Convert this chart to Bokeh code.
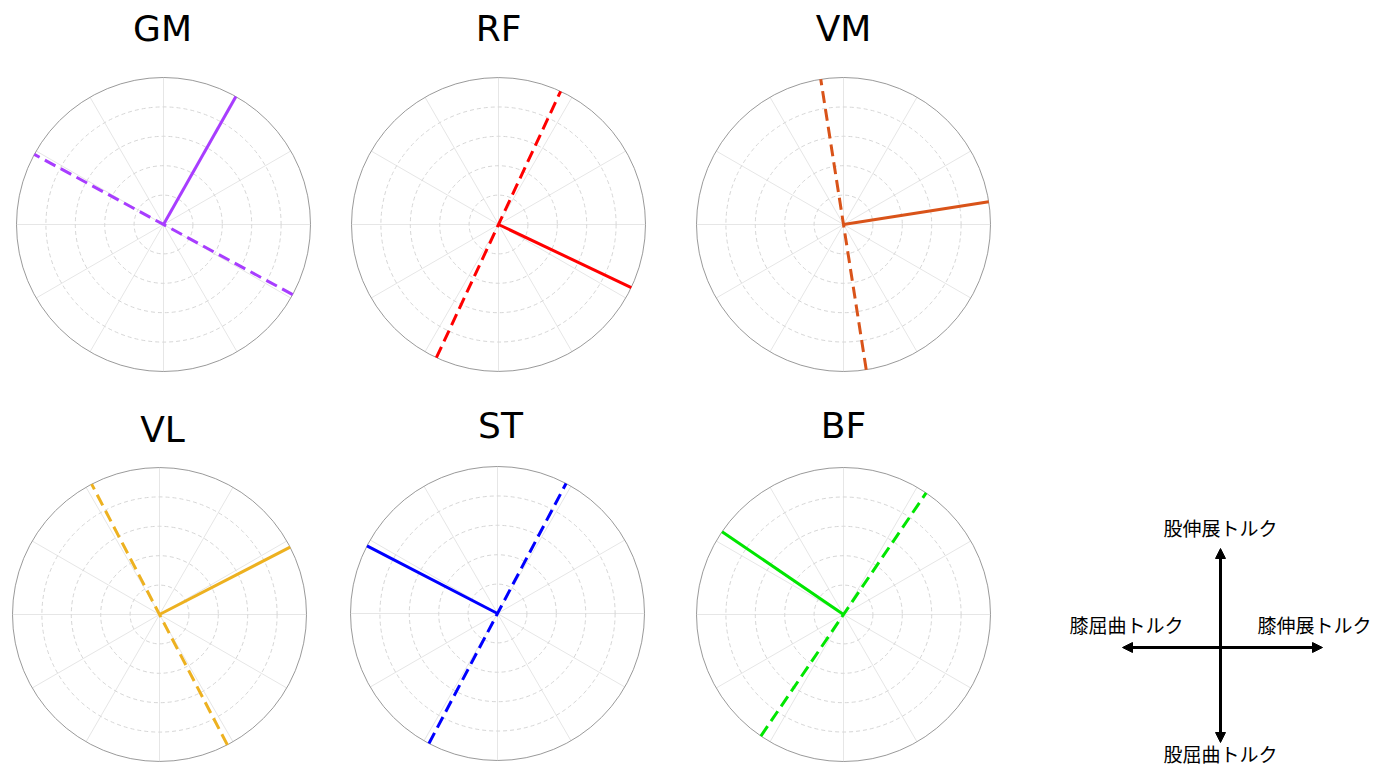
import numpy as np
from bokeh.plotting import figure
from bokeh.models import Range1d, Arrow, NormalHead
from bokeh.core.properties import value
from bokeh.embed import file_html
from bokeh.resources import INLINE

# ---- data ----
muscles = ["GM", "RF", "VM", "VL", "ST", "BF"]
solid_deg = [60.5, -25.4, 8.9, 27.3, 152.6, 145.7]     # direction of solid vector
dashed_deg = [151.5, 65.0, 98.9, 117.5, 62.2, 55.8]   # orientation of dashed axis
colors = ["#A83DFF", "#FF0000", "#D95319", "#EDB120", "#0000FF", "#00E600"]
ring_levels = [0.2, 0.4, 0.6, 0.8]
spoke_deg = list(range(0, 360, 30))
legend_labels = ["股伸展トルク", "膝屈曲トルク", "膝伸展トルク", "股屈曲トルク"]

# ---- layout (picture pixel coordinates, y measured upward: y = 784 - picture_y) ----
W, H = 1378, 768
centers = [(163, 560), (498, 560), (843, 560), (159, 170), (497, 171), (843, 170)]
title_pos = [(162, 756), (498, 756), (843, 756), (162, 355), (500, 359), (843, 359)]
R = 147.0

p = figure(width=W, height=H, output_backend="svg", toolbar_location=None,
           x_range=Range1d(0, W), y_range=Range1d(784 - H, 784),
           min_border=0, outline_line_color=None)
p.axis.visible = False
p.grid.visible = False

for i, m in enumerate(muscles):
    cx, cy = centers[i]
    # spokes
    a = np.radians(spoke_deg)
    p.segment(x0=[cx] * len(a), y0=[cy] * len(a), x1=list(cx + R * np.cos(a)),
              y1=list(cy + R * np.sin(a)), line_color="#e6e6e6", line_width=1)
    # inner rings (dashed)
    p.circle(x=[cx] * len(ring_levels), y=[cy] * len(ring_levels),
             radius=[R * r for r in ring_levels], fill_color=None,
             line_color="#d6d6d6", line_width=1, line_dash="4 3")
    # outer ring
    p.circle(x=[cx], y=[cy], radius=[R], fill_color=None, line_color="#9a9a9a", line_width=1)
    # dashed axis through center
    d = np.radians(dashed_deg[i])
    p.segment(x0=[cx - R * np.cos(d)], y0=[cy - R * np.sin(d)],
              x1=[cx + R * np.cos(d)], y1=[cy + R * np.sin(d)],
              line_color=colors[i], line_width=3, line_dash="12 6")
    # solid vector
    s = np.radians(solid_deg[i])
    p.segment(x0=[cx], y0=[cy], x1=[cx + R * np.cos(s)], y1=[cy + R * np.sin(s)],
              line_color=colors[i], line_width=3)
    # title
    tx, ty = title_pos[i]
    p.text(x=[tx], y=[ty], text=[m], text_align="center", text_baseline="middle",
           text_font=value("DejaVu Sans"), text_font_size="36px", text_color="black")

# ---- direction legend ----
lx, ly = 1220, 137
p.add_layout(Arrow(x_start=lx, y_start=42, x_end=lx, y_end=236, line_width=3,
                   line_color="black",
                   start=NormalHead(size=10, fill_color="black", line_color="black"),
                   end=NormalHead(size=10, fill_color="black", line_color="black")))
p.add_layout(Arrow(x_start=1122, y_start=ly, x_end=1322, y_end=ly, line_width=3,
                   line_color="black",
                   start=NormalHead(size=10, fill_color="black", line_color="black"),
                   end=NormalHead(size=10, fill_color="black", line_color="black")))
lab_x = [1220, 1126, 1314, 1220]
lab_y = [257, 160, 160, 31]
p.text(x=lab_x, y=lab_y, text=legend_labels, text_align="center", text_baseline="middle",
       text_font=value("Noto Sans CJK JP"), text_font_size="19px", text_color="black")

open("out.html", "w").write(file_html(p, INLINE))
